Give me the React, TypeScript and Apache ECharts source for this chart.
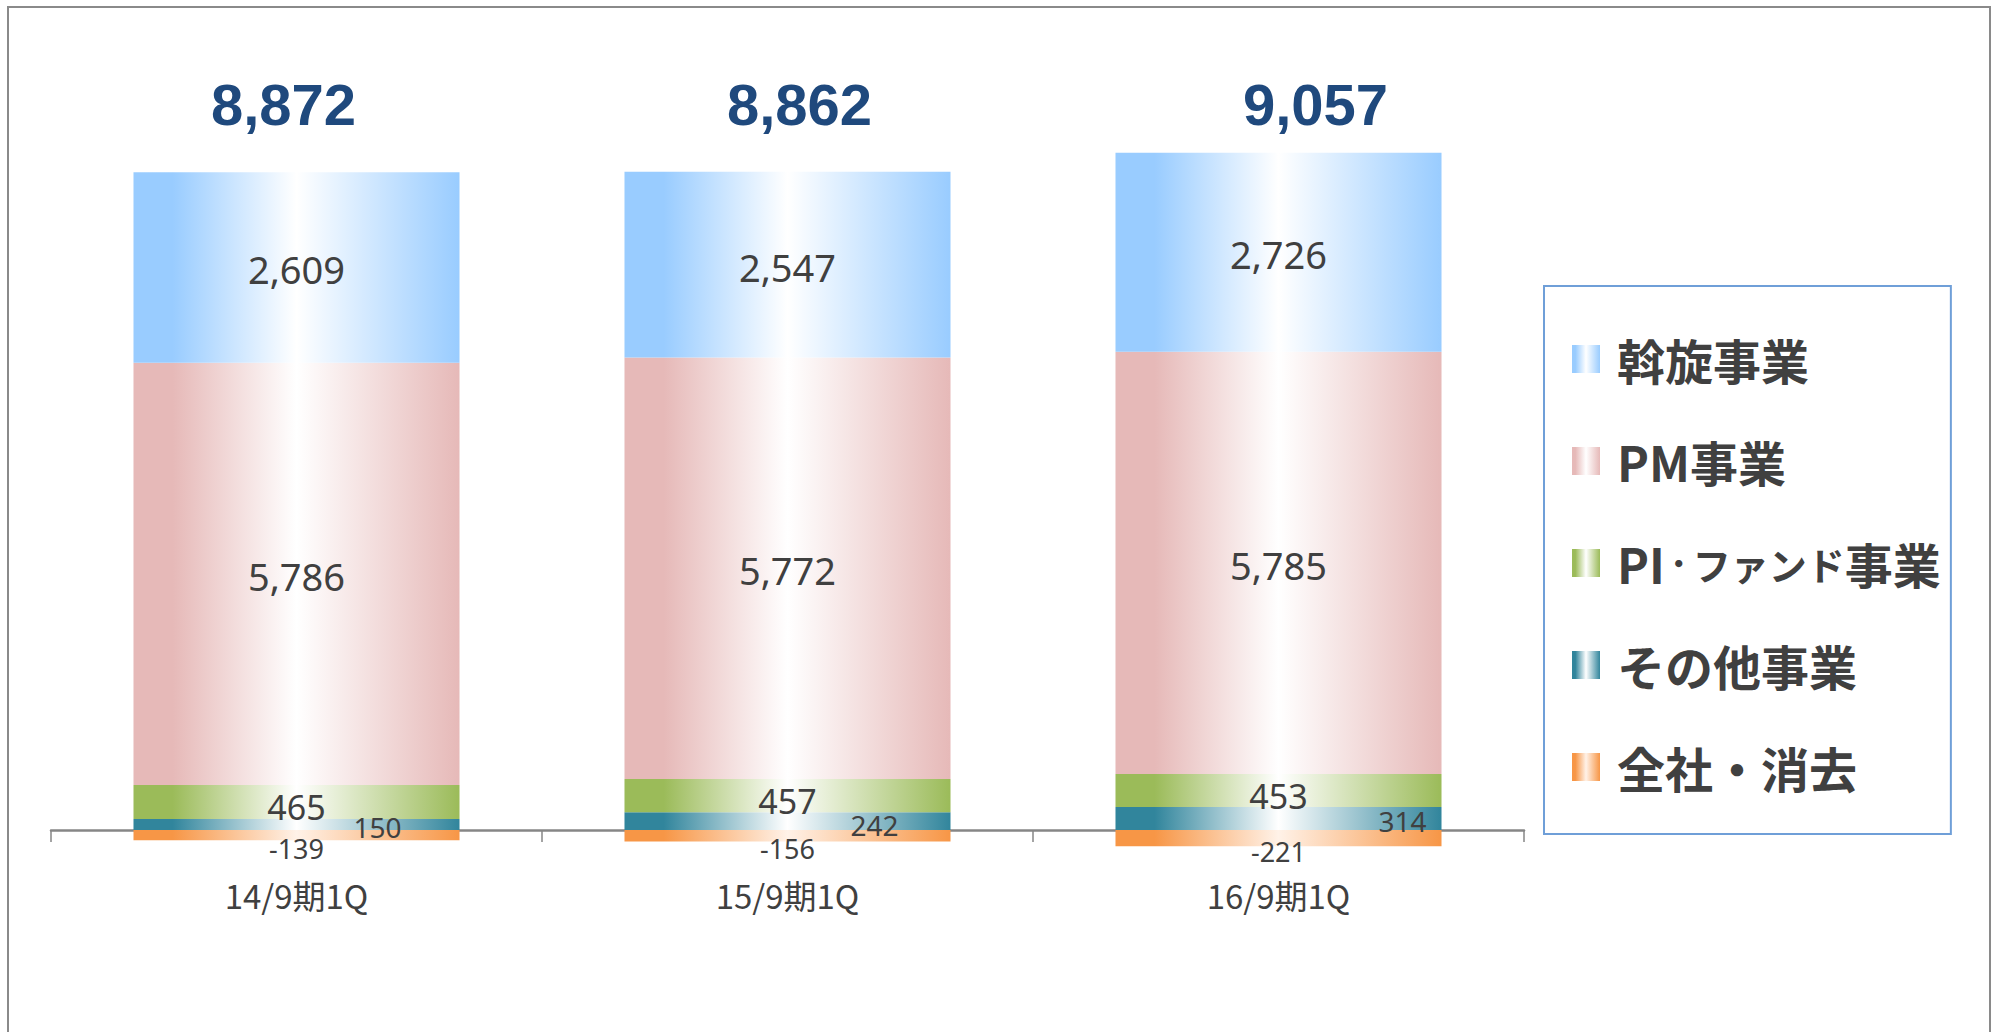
import React, { useEffect, useRef } from "react";
import * as echarts from "echarts";

const CATEGORIES = ["14/9期1Q", "15/9期1Q", "16/9期1Q"];
const SERIES_NAMES = ["斡旋事業", "PM事業", "PI・ファンド事業", "その他事業", "全社・消去"];
const BROKERAGE = [2609, 2547, 2726];
const PM = [5786, 5772, 5785];
const PI_FUND = [465, 457, 453];
const OTHER = [150, 242, 314];
const CORPORATE = [-139, -156, -221];
const TOTALS = [8872, 8862, 9057];

// layout / style constants (not data)
const TOTAL_LABEL_LEVEL = 9940;
const TOTAL_LABEL_OFFSETS = [-13, 12, 37];
const OTHER_LABEL_OFFSETS = [[81, 2], [87, 4], [124, 2]];

const fmt = (v: number) => v.toLocaleString("en-US");

const grad = (c: string, mid = "#ffffff") =>
  new echarts.graphic.LinearGradient(0, 0, 1, 0, [
    { offset: 0, color: c },
    { offset: 0.12, color: c },
    { offset: 0.5, color: mid },
    { offset: 1, color: c },
  ]);

const LABEL_COLOR = "#404040";

// legend text: katakana and the middle dot of "PI・ファンド事業" are drawn narrower
const legendFormatter = (name: string) => {
  if (name.startsWith("PI")) {
    return "{b|PI}{d|・}{k|ファンド}{b|事業}";
  }
  return `{b|${name}}`;
};

export default function App() {
  const ref = useRef<HTMLDivElement>(null);
  useEffect(() => {
    if (!ref.current) return;
    const chart = echarts.init(ref.current, null, { renderer: "svg" });
    const segLabel = (fontSize: number, offset: number[] = [0, 0]) => ({
      show: true,
      position: "inside",
      color: LABEL_COLOR,
      fontFamily: "Noto Sans",
      fontSize,
      offset,
      formatter: (p: any) => fmt(p.value),
    });
    const common = { type: "bar", stack: "total", barWidth: "66.4%" };
    const legendText = {
      fontFamily: "Noto Sans CJK JP",
      fontWeight: "bold",
      color: LABEL_COLOR,
      lineHeight: 50,
      verticalAlign: "middle",
    };
    chart.setOption({
      animation: false,
      backgroundColor: "#ffffff",
      graphic: [
        {
          type: "rect",
          shape: { x: 8, y: 7, width: 1982, height: 1100 },
          style: { fill: "transparent", stroke: "#8a8a8a", lineWidth: 2 },
          silent: true,
        },
      ],
      grid: { left: 51, right: 475, top: 100, bottom: 129 },
      legend: {
        orient: "vertical",
        left: 1544,
        top: 286,
        data: SERIES_NAMES,
        icon: "rect",
        itemWidth: 28,
        itemHeight: 28,
        itemGap: 52,
        padding: [48, 10, 42, 28],
        borderColor: "#6f9fd8",
        borderWidth: 2,
        selectedMode: false,
        formatter: legendFormatter,
        textStyle: {
          ...legendText,
          fontSize: 48,
          padding: [0, 0, 0, 12],
          rich: {
            b: { ...legendText, fontSize: 48 },
            k: { ...legendText, fontSize: 38 },
            d: { ...legendText, fontSize: 28 },
          },
        },
      },
      xAxis: {
        type: "category",
        data: CATEGORIES,
        axisLine: { onZero: true, lineStyle: { color: "#868686", width: 2.5 } },
        axisTick: { show: true, length: 12, lineStyle: { color: "#868686", width: 1.5 } },
        axisLabel: {
          margin: -25,
          fontSize: 33,
          color: LABEL_COLOR,
          fontFamily: "Noto Sans CJK JP",
        },
      },
      yAxis: { type: "value", min: -1000, max: 10000, show: false },
      series: [
        {
          ...common,
          name: SERIES_NAMES[3],
          data: OTHER.map((v, i) => ({
            value: v,
            label: { offset: OTHER_LABEL_OFFSETS[i] },
          })),
          itemStyle: { color: grad("#31859c") },
          label: segLabel(28),
        },
        {
          ...common,
          name: SERIES_NAMES[2],
          data: PI_FUND,
          itemStyle: { color: grad("#9bbb59") },
          label: segLabel(34, [0, 5]),
        },
        {
          ...common,
          name: SERIES_NAMES[1],
          data: PM,
          itemStyle: { color: grad("#e6b9b8") },
          label: segLabel(38, [0, 2]),
        },
        {
          ...common,
          name: SERIES_NAMES[0],
          data: BROKERAGE,
          itemStyle: { color: grad("#99ccff") },
          label: segLabel(38, [0, 2]),
        },
        {
          ...common,
          name: SERIES_NAMES[4],
          data: CORPORATE,
          itemStyle: { color: grad("#f79646", "#fff2e8") },
          label: segLabel(27, [0, 13]),
        },
        {
          type: "scatter",
          name: "合計",
          symbol: "circle",
          symbolSize: 1,
          silent: true,
          itemStyle: { color: "rgba(0,0,0,0)", opacity: 1 },
          data: TOTALS.map((t, i) => ({
            value: [i, TOTAL_LABEL_LEVEL],
            label: { offset: [TOTAL_LABEL_OFFSETS[i], 0] },
          })),
          label: {
            show: true,
            position: "inside",
            color: "#1f497d",
            opacity: 1,
            fontFamily: "Liberation Sans",
            fontWeight: "bold",
            fontSize: 58,
            formatter: (p: any) => fmt(TOTALS[p.dataIndex]),
          },
        },
      ],
    });
    return () => chart.dispose();
  }, []);
  return (
    <div
      ref={ref}
      style={{ position: "absolute", left: 0, top: 0, width: 1999, height: 1032 }}
    />
  );
}
